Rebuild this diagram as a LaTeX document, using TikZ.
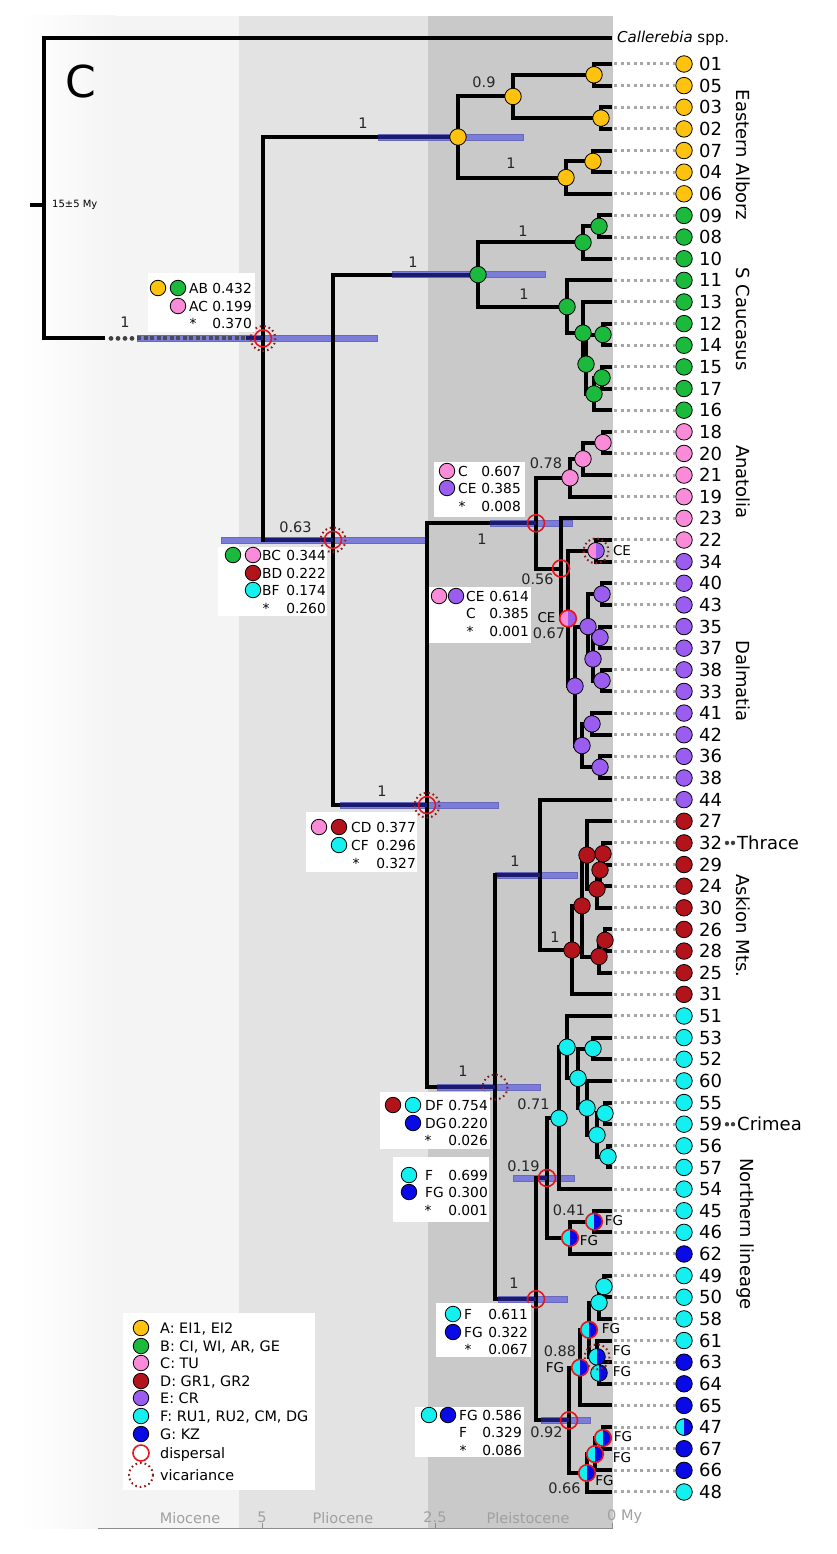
\documentclass[tikz,border=0pt]{standalone}
\usepackage{fontspec}
\setmainfont{DejaVu Sans}[ItalicFont={DejaVu Sans Oblique}]
\definecolor{cA}{HTML}{FFC20E}
\definecolor{cB}{HTML}{1CBA3C}
\definecolor{cC}{HTML}{F98BD8}
\definecolor{cD}{HTML}{B3141C}
\definecolor{cE}{HTML}{9B5DF0}
\definecolor{cF}{HTML}{14F0F0}
\definecolor{cG}{HTML}{0A0AE6}
\definecolor{mioc}{HTML}{F4F4F4}
\definecolor{plioc}{HTML}{E3E3E3}
\definecolor{pleic}{HTML}{C9C9C9}
\definecolor{barc}{HTML}{7C7CDA}
\definecolor{navyc}{HTML}{1A1A70}
\definecolor{dotgrey}{HTML}{A6A6A6}
\definecolor{dispred}{HTML}{E8151D}
\definecolor{vicred}{HTML}{8E1B1B}
\definecolor{axisc}{HTML}{8C8C8C}
\definecolor{axtext}{HTML}{A0A0A0}
\definecolor{dashc}{HTML}{4A4A5A}
\definecolor{dotdark}{HTML}{404040}
\newcommand{\halfpie}[4]{%
  \fill[#2] (#1) -- ++(0,8.3) arc[start angle=90, end angle=270, radius=8.3] -- cycle;
  \fill[#3] (#1) -- ++(0,8.3) arc[start angle=90, end angle=-90, radius=8.3] -- cycle;
  \draw[#4] (#1) circle (8.3);}
\tikzset{
  br/.style={line width=4pt, black},
  nv/.style={line width=4pt, navyc},
  hpd/.style={fill=barc, draw=barc!85!black, line width=0.4pt},
  ndc/.style={circle, draw=black, line width=0.8pt, minimum size=16.5pt, inner sep=0pt},
  tipc/.style={circle, draw=black, line width=0.8pt, minimum size=16.5pt, inner sep=0pt},
  lgc/.style={circle, draw=black, line width=0.8pt, minimum size=15.5pt, inner sep=0pt},
  tipdot/.style={line width=3pt, dotgrey, dash pattern=on 3pt off 3.5pt},
  tiplab/.style={anchor=west, font=\fontsize{18}{18}\selectfont, inner sep=0pt, text height=13.1pt, text depth=0pt},
  cladel/.style={font=\fontsize{18}{18}\selectfont, inner sep=0pt},
  disp/.style={draw=dispred, line width=1.6pt},
  vic/.style={draw=vicred, line width=2pt, dash pattern=on 1.6pt off 3pt},
  suplab/.style={font=\fontsize{14.5}{14.5}\selectfont, inner sep=0pt, text height=10.5pt, text depth=0pt, text=black!85},
  smlab/.style={font=\fontsize{13.5}{13.5}\selectfont, inner sep=0pt, text height=9.8pt, text depth=0pt},
  annt/.style={font=\fontsize{13.8}{14}\selectfont, inner sep=0pt, text height=10pt, text depth=0pt},
  lgt/.style={anchor=west, font=\fontsize{14.4}{15}\selectfont, inner sep=0pt, text height=10.4pt, text depth=0pt},
  axl/.style={font=\fontsize{14.5}{15}\selectfont, text=axtext, inner sep=0pt},
}
\begin{document}
\begin{tikzpicture}[x=1pt,y=-1pt]
\useasboundingbox (0,0) rectangle (836,1554);
\fill[white] (0,0) rectangle (836,1554);
% epoch bands
\shade[left color=white, right color=mioc] (20,16) rectangle (115,1528);
\fill[mioc] (114.5,16) rectangle (239.5,1528);
\fill[plioc] (239,16) rectangle (428.5,1528);
\fill[pleic] (428,16) rectangle (613,1528);
% axis
\draw[axisc, line width=1pt] (98,1528) -- (613,1528);
\foreach \x in {262,435,612} \draw[axisc, line width=1pt] (\x,1528) -- (\x,1523);
\node[axl] (axMio) at (190,1518) {Miocene};
\node[axl] (ax5) at (262,1517) {5};
\node[axl] (axPli) at (343,1518) {Pliocene};
\node[axl] (ax25) at (435,1517) {2.5};
\node[axl] (axPle) at (528,1518) {Pleistocene};
\node[axl, anchor=west] (ax0) at (607,1517) {0 My};
% panel letter
\node[font=\fontsize{44}{44}\selectfont, inner sep=0pt] (panelC) at (81,81) {C};

% ---------- coordinates ----------
\coordinate (rt) at (44,188);
\coordinate (tcall) at (612,38);
\coordinate (rb) at (105,338.4);
\coordinate (rd1) at (137,338.4);
\coordinate (rd2) at (246,338.4);
\foreach \n/\x/\y in {nA1/594/74.8, nA2/601/118.1, nA3/513/96.5, nA4/593/161.4, nA5/566/177.6, nA6/458/137.0,
  nB1/599/226.3, nB2/583/242.5, nB3/603/334.5, nB4/602/377.7, nB5/594/393.9, nB6/586/364.2, nB7/583/333.1, nB8/567/306.7, nB9/478/274.6,
  nC1/603/442.6, nC2/583/458.9, nC3/570/477.8,
  nE1/596/550.8, nE2/602/594.1, nE3/600/637.4, nE4/602/680.6, nE5/593/659.0, nE6/588/626.6, nE7/592/723.9, nE8/600/767.2, nE9/582/745.6, nE10/575/686.1,
  nCE/568/618.5, n056/561/568.5, nCC/536/523.2,
  nD1/603/853.7, nD2/600/870.0, nD3/597/888.9, nD4/587/855.1, nD5/605/940.3, nD6/599/956.5, nD7/582/905.8, nD8/572/950.1, nD9/540/874.9,
  nF1/593/1048.5, nF2/605/1113.4, nF3/608/1156.6, nF4/597/1135.0, nF5/587/1108.0, nF6/578/1078.3, nF7/567/1047.2, nF8/559/1118.2,
  nF9/594/1221.6, nF10/570/1237.8, nF11/547/1178.0,
  nG1/604/1286.5, nG2/599/1302.7, nG3/599/1373.0, nG4/597/1356.8, nG5/589/1329.8, nG6/580/1367.6, nG7/603/1437.9, nG8/595/1454.1, nG9/587/1473.0,
  nG10/569/1420.3, nG11/536/1299.2, nDF/495/1087.0, nCD/427/805.1, nBC/333/539.8, nAB/263/338.4}
  \coordinate (\n) at (\x,\y);

% ---------- tips ----------
\foreach \lab/\col [count=\i from 0] in {01/cA,05/cA,03/cA,02/cA,07/cA,04/cA,06/cA,09/cB,08/cB,10/cB,11/cB,13/cB,12/cB,14/cB,15/cB,17/cB,16/cB,18/cC,20/cC,21/cC,19/cC,23/cC,22/cC,34/cE,40/cE,43/cE,35/cE,37/cE,38/cE,33/cE,41/cE,42/cE,36/cE,38/cE,44/cE,27/cD,32/cD,29/cD,24/cD,30/cD,26/cD,28/cD,25/cD,31/cD,51/cF,53/cF,52/cF,60/cF,55/cF,59/cF,56/cF,57/cF,54/cF,45/cF,46/cF,62/cG,49/cF,50/cF,58/cF,61/cF,63/cG,64/cG,65/cG,47/cF,67/cG,66/cG,48/cF}{
  \coordinate (t\i) at (612,{64+21.636*\i});
  \node[tipc, fill=\col] (c\i) at (684,{64+21.636*\i}) {};
  \node[tiplab] (l\i) at (699,{64+21.636*\i}) {\lab};
  \draw[tipdot] ([xshift=2pt]t\i) -- (c\i.west);
}
\halfpie{c63.center}{cF}{cG}{draw=black, line width=0.8pt}

% ---------- HPD bars ----------
\foreach \y/\a/\b in {137/378/523, 274.6/392/545, 338.4/137/377, 539.8/221/427, 805.1/340/498, 523.2/490/572, 874.9/495/577, 1087/437/540, 1178/513/574, 1299.2/498/567, 1420.3/541/590}
  \fill[hpd] (\a,{\y-3}) rectangle (\b,{\y+3});

% ---------- branches ----------
\draw[br] (rt) |- (tcall);
\draw[br] (rt) |- (rb);
\draw[br] (30,205) -- (44,205);
\foreach \pa/\ch in {nAB/nA6, nAB/nBC, nA6/nA3, nA6/nA5, nA3/nA1, nA3/nA2, nA1/t0, nA1/t1, nA2/t2, nA2/t3, nA5/nA4, nA5/t6, nA4/t4, nA4/t5,
  nBC/nB9, nBC/nCD, nB9/nB2, nB9/nB8, nB2/nB1, nB2/t9, nB1/t7, nB1/t8, nB8/t10, nB8/nB7, nB7/t11, nB7/nB6, nB6/nB3, nB6/nB5, nB3/t12, nB3/t13, nB5/nB4, nB5/t16, nB4/t14, nB4/t15,
  nCD/nCC, nCD/nDF, nCC/nC3, nCC/n056, nC3/nC2, nC3/t20, nC2/nC1, nC2/t19, nC1/t17, nC1/t18,
  n056/t21, n056/nCE, nCE/nE1, nCE/nE10, nE1/t22, nE1/t23, nE10/nE6, nE10/nE9, nE6/nE2, nE6/nE5, nE2/t24, nE2/t25, nE5/nE3, nE5/nE4, nE3/t26, nE3/t27, nE4/t28, nE4/t29, nE9/nE7, nE9/nE8, nE7/t30, nE7/t31, nE8/t32, nE8/t33,
  nDF/nD9, nDF/nG11, nD9/t34, nD9/nD8, nD8/nD7, nD8/t43, nD7/nD4, nD7/nD6, nD4/t35, nD4/nD3, nD3/nD2, nD3/t39, nD2/nD1, nD2/t38, nD1/t36, nD1/t37, nD6/nD5, nD6/t42, nD5/t40, nD5/t41,
  nG11/nF11, nG11/nG10, nF11/nF8, nF11/nF10, nF8/nF7, nF8/t52, nF7/t44, nF7/nF6, nF6/nF1, nF6/nF5, nF1/t45, nF1/t46, nF5/t47, nF5/nF4, nF4/nF2, nF4/nF3, nF2/t48, nF2/t49, nF3/t50, nF3/t51,
  nF10/nF9, nF10/t55, nF9/t53, nF9/t54,
  nG10/nG6, nG10/nG9, nG6/nG5, nG6/t62, nG5/nG2, nG5/nG4, nG2/nG1, nG2/t58, nG1/t56, nG1/t57, nG4/t59, nG4/nG3, nG3/t60, nG3/t61, nG9/nG8, nG9/t66, nG8/nG7, nG8/t65, nG7/t63, nG7/t64}
  \draw[br] (\pa) |- (\ch);

% navy stems inside the bars
\draw[nv] (378,137) -- (nA6);
\draw[nv] (392,274.6) -- (nB9);
\draw[nv] (rd2) -- (nAB);
\draw[nv] (265,539.8) -- (nBC);
\draw[nv] (340,805.1) -- (nCD);
\draw[nv] (490,523.2) -- (nCC);
\draw[nv] (497,874.9) -- (nD9);
\draw[nv] (437,1087) -- (nDF);
\draw[nv] (538,1178) -- (nF11);
\draw[nv] (498,1299.2) -- (nG11);
\draw[nv] (541,1420.3) -- (nG10);

% root dashed stem
\foreach \x [count=\k] in {111,118,125,132} \fill[dotdark] (\x,338.4) circle (2.4);
\draw[line width=4pt, dashc, dash pattern=on 4pt off 2.5pt] (rd1) -- (rd2);

% ---------- node markers ----------
\foreach \n/\col in {nA1/cA, nA2/cA, nA3/cA, nA4/cA, nA5/cA, nA6/cA,
  nB1/cB, nB2/cB, nB3/cB, nB4/cB, nB5/cB, nB6/cB, nB7/cB, nB8/cB, nB9/cB,
  nC1/cC, nC2/cC, nC3/cC,
  nE2/cE, nE3/cE, nE4/cE, nE5/cE, nE6/cE, nE7/cE, nE8/cE, nE9/cE, nE10/cE,
  nD1/cD, nD2/cD, nD3/cD, nD4/cD, nD5/cD, nD6/cD, nD7/cD, nD8/cD,
  nF1/cF, nF2/cF, nF3/cF, nF4/cF, nF5/cF, nF6/cF, nF7/cF, nF8/cF, nG1/cF, nG2/cF}
  \node[ndc, fill=\col] (k\n) at (\n) {};
\halfpie{nE1}{cC}{cE}{draw=black, line width=0.8pt}
\halfpie{nCE}{cC}{cE}{disp}
\foreach \n in {nF9, nF10, nG5, nG6, nG7, nG8, nG9} {\halfpie{\n}{cF}{cG}{disp}}
\halfpie{nG4}{cF}{cG}{draw=black, line width=0.8pt}
\halfpie{nG3}{cF}{cG}{draw=black, line width=0.8pt}
\foreach \n in {nAB, nBC, nCD, nCC, n056, nF11, nG11, nG10} \draw[disp] (\n) circle (8.5);
\foreach \n in {nAB, nBC, nCD, nDF, nE1, nG4} \draw[vic] (\n) circle (12.5);

% ---------- support values and labels ----------
\node[suplab] (s1) at (125,322) {1};
\node[suplab] (s2) at (363,123) {1};
\node[suplab] (s3) at (484,82) {0.9};
\node[suplab] (s4) at (511,163) {1};
\node[suplab] (s5) at (413,262) {1};
\node[suplab] (s6) at (523,231) {1};
\node[suplab] (s7) at (524,294) {1};
\node[suplab] (s8) at (295.5,527) {0.63};
\node[suplab] (s9) at (546,463) {0.78};
\node[suplab] (s10) at (482,539) {1};
\node[suplab] (s11) at (537.5,579) {0.56};
\node[smlab] (s12) at (546.5,618) {CE};
\node[suplab] (s13) at (549,633) {0.67};
\node[smlab] (s14) at (622,551) {CE};
\node[suplab] (s15) at (382,791) {1};
\node[suplab] (s16) at (515,861) {1};
\node[suplab] (s17) at (555,937) {1};
\node[suplab] (s18) at (463,1071) {1};
\node[suplab] (s19) at (533.5,1104) {0.71};
\node[suplab] (s20) at (523.5,1166) {0.19};
\node[suplab] (s21) at (569,1210) {0.41};
\node[smlab] (s22) at (614,1221) {FG};
\node[smlab] (s23) at (589,1241) {FG};
\node[suplab] (s24) at (514,1283) {1};
\node[smlab] (s25) at (611,1329) {FG};
\node[suplab] (s26) at (560,1351) {0.88};
\node[smlab] (s27) at (555,1368) {FG};
\node[smlab] (s28) at (622,1351) {FG};
\node[smlab] (s29) at (622,1372) {FG};
\node[suplab] (s30) at (546.5,1432) {0.92};
\node[smlab] (s31) at (623,1437) {FG};
\node[smlab] (s32) at (622,1458) {FG};
\node[smlab] (s33) at (604.5,1481) {FG};
\node[suplab] (s34) at (564.5,1488) {0.66};
\node[anchor=west, font=\fontsize{10}{10}\selectfont, inner sep=0pt] (age) at (52,205) {15±5 My};

% ---------- annotation boxes ----------
% AB
\fill[white] (148,273) rectangle (255,332);
\node[lgc, fill=cA] (b1a) at (158,288) {};
\node[lgc, fill=cB] (b1b) at (178,288) {};
\node[lgc, fill=cC] (b1c) at (178,306) {};
\node[annt, anchor=west] (b1t1) at (189,288) {AB};
\node[annt, anchor=west] (b1t2) at (189,306) {AC};
\node[annt] (b1t3) at (193,323) {*};
\node[annt, anchor=east] (b1n1) at (252,288) {0.432};
\node[annt, anchor=east] (b1n2) at (252,306) {0.199};
\node[annt, anchor=east] (b1n3) at (252,323) {0.370};
% BC
\fill[white] (218,547) rectangle (327,616);
\node[lgc, fill=cB] (b2a) at (233,555) {};
\node[lgc, fill=cC] (b2b) at (253,555) {};
\node[lgc, fill=cD] (b2c) at (253,573) {};
\node[lgc, fill=cF] (b2d) at (253,590) {};
\node[annt, anchor=west] (b2t1) at (262,555) {BC};
\node[annt, anchor=west] (b2t2) at (262,573) {BD};
\node[annt, anchor=west] (b2t3) at (262,590) {BF};
\node[annt] (b2t4) at (266,608) {*};
\node[annt, anchor=east] (b2n1) at (326,555) {0.344};
\node[annt, anchor=east] (b2n2) at (326,573) {0.222};
\node[annt, anchor=east] (b2n3) at (326,590) {0.174};
\node[annt, anchor=east] (b2n4) at (326,608) {0.260};
% C / CE 0.607
\fill[white] (434,462) rectangle (525,517);
\node[lgc, fill=cC] (b3a) at (447,471) {};
\node[lgc, fill=cE] (b3b) at (447,488) {};
\node[annt, anchor=west] (b3t1) at (458,471) {C};
\node[annt, anchor=west] (b3t2) at (458,488) {CE};
\node[annt] (b3t3) at (462,506) {*};
\node[annt, anchor=east] (b3n1) at (521,471) {0.607};
\node[annt, anchor=east] (b3n2) at (521,488) {0.385};
\node[annt, anchor=east] (b3n3) at (521,506) {0.008};
% CE 0.614
\fill[white] (429,587) rectangle (531,643);
\node[lgc, fill=cC] (b4a) at (439,596) {};
\node[lgc, fill=cE] (b4b) at (456,596) {};
\node[annt, anchor=west] (b4t1) at (466,596) {CE};
\node[annt, anchor=west] (b4t2) at (466,613) {C};
\node[annt] (b4t3) at (470,631) {*};
\node[annt, anchor=east] (b4n1) at (529,596) {0.614};
\node[annt, anchor=east] (b4n2) at (529,613) {0.385};
\node[annt, anchor=east] (b4n3) at (529,631) {0.001};
% CD
\fill[white] (306,812) rectangle (417,872);
\node[lgc, fill=cC] (b5a) at (319,827) {};
\node[lgc, fill=cD] (b5b) at (339,827) {};
\node[lgc, fill=cF] (b5c) at (339,845) {};
\node[annt, anchor=west] (b5t1) at (351,827) {CD};
\node[annt, anchor=west] (b5t2) at (351,845) {CF};
\node[annt] (b5t3) at (356,863) {*};
\node[annt, anchor=east] (b5n1) at (416,827) {0.377};
\node[annt, anchor=east] (b5n2) at (416,845) {0.296};
\node[annt, anchor=east] (b5n3) at (416,863) {0.327};
% DF
\fill[white] (380,1092) rectangle (490,1149);
\node[lgc, fill=cD] (b6a) at (393,1105) {};
\node[lgc, fill=cF] (b6b) at (413,1105) {};
\node[lgc, fill=cG] (b6c) at (413,1123) {};
\node[annt, anchor=west] (b6t1) at (425,1105) {DF};
\node[annt, anchor=west] (b6t2) at (425,1123) {DG};
\node[annt] (b6t3) at (428,1140) {*};
\node[annt, anchor=east] (b6n1) at (488,1105) {0.754};
\node[annt, anchor=east] (b6n2) at (488,1123) {0.220};
\node[annt, anchor=east] (b6n3) at (488,1140) {0.026};
% F 0.699
\fill[white] (393,1157) rectangle (489,1222);
\node[lgc, fill=cF] (b7a) at (409,1175) {};
\node[lgc, fill=cG] (b7b) at (409,1192) {};
\node[annt, anchor=west] (b7t1) at (425,1175) {F};
\node[annt, anchor=west] (b7t2) at (425,1192) {FG};
\node[annt] (b7t3) at (428,1210) {*};
\node[annt, anchor=east] (b7n1) at (488,1175) {0.699};
\node[annt, anchor=east] (b7n2) at (488,1192) {0.300};
\node[annt, anchor=east] (b7n3) at (488,1210) {0.001};
% F 0.611
\fill[white] (436,1303) rectangle (531,1357);
\node[lgc, fill=cF] (b8a) at (453,1314) {};
\node[lgc, fill=cG] (b8b) at (453,1332) {};
\node[annt, anchor=west] (b8t1) at (464,1314) {F};
\node[annt, anchor=west] (b8t2) at (464,1332) {FG};
\node[annt] (b8t3) at (468,1349) {*};
\node[annt, anchor=east] (b8n1) at (528,1314) {0.611};
\node[annt, anchor=east] (b8n2) at (528,1332) {0.322};
\node[annt, anchor=east] (b8n3) at (528,1349) {0.067};
% FG 0.586
\fill[white] (415,1407) rectangle (524,1457);
\node[lgc, fill=cF] (b9a) at (429,1415) {};
\node[lgc, fill=cG] (b9b) at (448,1415) {};
\node[annt, anchor=west] (b9t1) at (459,1415) {FG};
\node[annt, anchor=west] (b9t2) at (459,1432) {F};
\node[annt] (b9t3) at (463,1450) {*};
\node[annt, anchor=east] (b9n1) at (522,1415) {0.586};
\node[annt, anchor=east] (b9n2) at (522,1432) {0.329};
\node[annt, anchor=east] (b9n3) at (522,1450) {0.086};

% ---------- tip extras ----------
\node[anchor=west, font=\fontsize{15}{15}\selectfont, inner sep=0pt] (call) at (617,38) {\textit{Callerebia} spp.};
\fill[dotdark] (727,842.9) circle (2.2); \fill[dotdark] (733,842.9) circle (2.2);
\node[tiplab] (thr) at (737,842.9) {Thrace};
\fill[dotdark] (727,1124.2) circle (2.2); \fill[dotdark] (733,1124.2) circle (2.2);
\node[tiplab] (cri) at (737,1124.2) {Crimea};
% clade labels
\node[cladel, rotate=-90] (gEA) at (743,155) {Eastern Alborz};
\node[cladel, rotate=-90] (gSC) at (743,319) {S Caucasus};
\node[cladel, rotate=-90] (gAN) at (743,482) {Anatolia};
\node[cladel, rotate=-90] (gDA) at (743,681) {Dalmatia};
\node[cladel, rotate=-90] (gAS) at (743,926) {Askion Mts.};
\node[cladel, rotate=-90] (gNL) at (745,1234) {Northern lineage};

% ---------- legend ----------
\fill[white] (123,1313) rectangle (315,1490);
\foreach \col/\txt/\yy [count=\k] in {cA/{A: EI1, EI2}/1328, cB/{B: CI, WI, AR, GE}/1346, cC/{C: TU}/1363, cD/{D: GR1, GR2}/1381, cE/{E: CR}/1398, cF/{F: RU1, RU2, CM, DG}/1416, cG/{G: KZ}/1434}{
  \node[lgc, fill=\col] (lc\k) at (141,\yy) {};
  \node[lgt] (lt\k) at (160,\yy) {\txt};
}
\draw[disp] (141,1453) circle (8);
\node[lgt] (ltd) at (160,1453) {dispersal};
\draw[vic] (141,1475) circle (12);
\node[lgt] (ltv) at (160,1475) {vicariance};
\end{tikzpicture}
\end{document}
